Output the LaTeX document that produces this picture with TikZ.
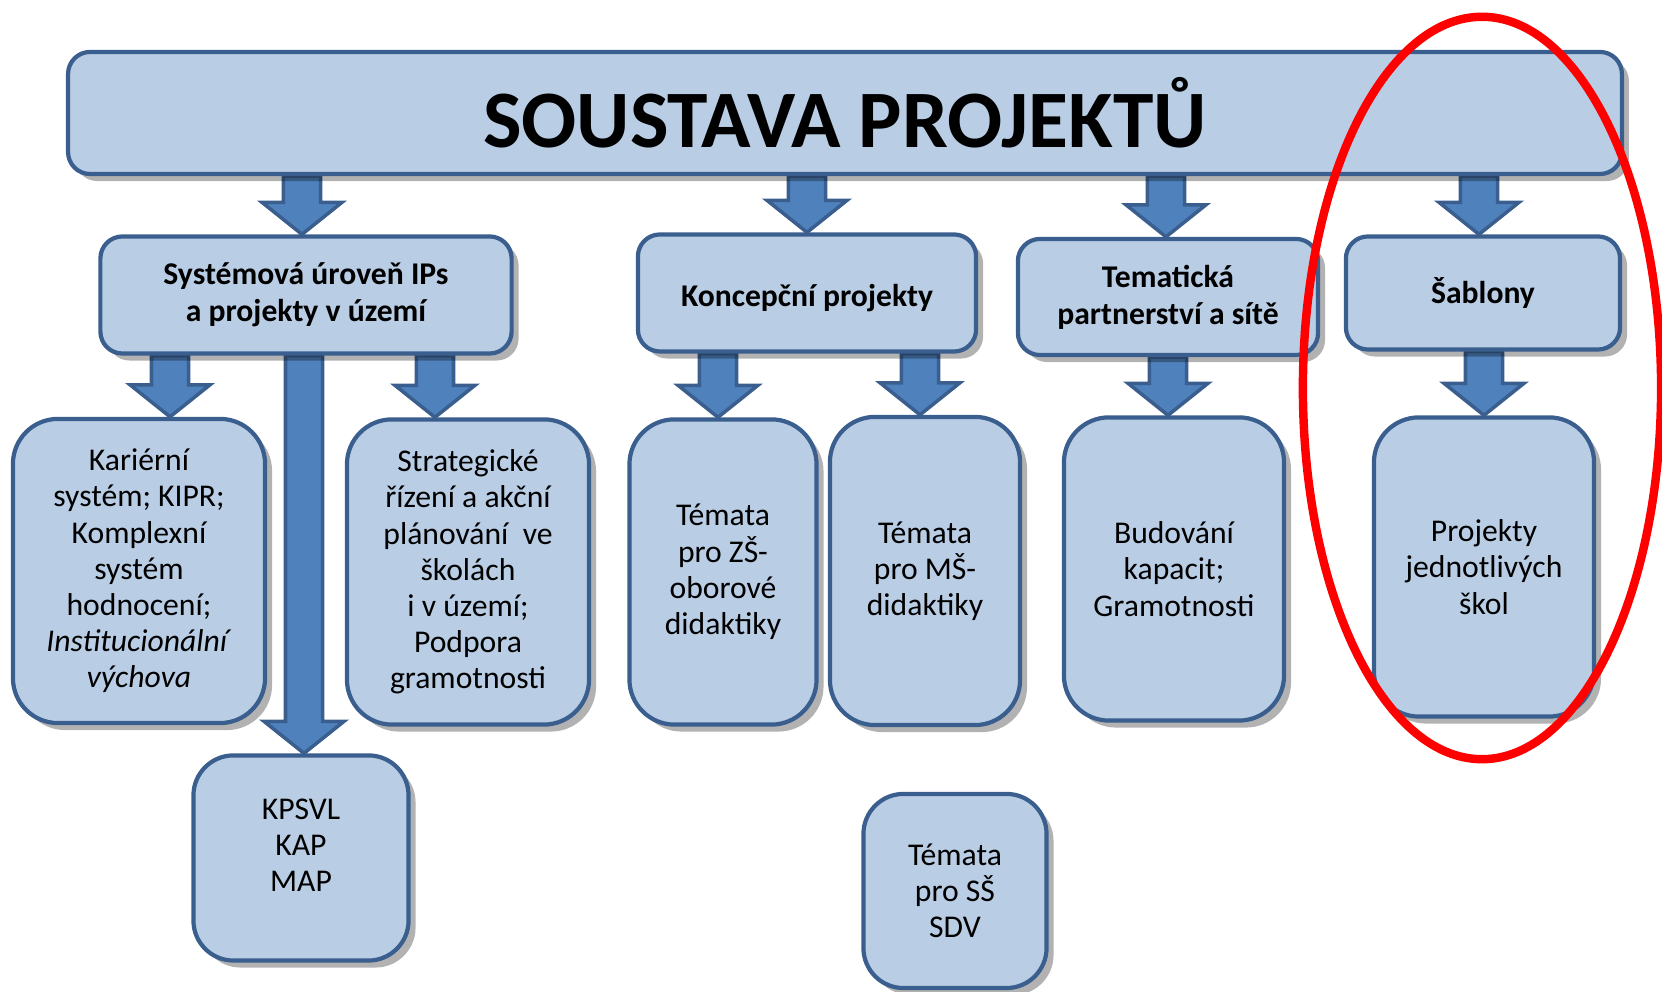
\documentclass[tikz,border=0pt]{standalone}
\usepackage{fontspec}
\setmainfont{Carlito}
\usetikzlibrary{shadows,backgrounds,calc}
\definecolor{boxfill}{HTML}{B9CDE5}
\definecolor{boxline}{HTML}{3A5F8E}
\definecolor{arrfill}{HTML}{4F81BD}
\newcommand\blockarrow[2]{%
	\filldraw[blockarr] let \p1=#1, \p2=#2 in
	(\x2-1.85mm,\y1)--(\x2+1.85mm,\y1)--(\x2+1.85mm,\y2+3.2mm)--(\x2+4mm,\y2+3.2mm)
	--(\x2,\y2)--(\x2-4mm,\y2+3.2mm)--(\x2-1.85mm,\y2+3.2mm)--cycle;}
\begin{document}
\begin{tikzpicture}[x=0.01cm, y=-0.01cm, line join=round,
	box/.style={draw=boxline, fill=boxfill, line width=1.2pt, rounded corners=4.5mm, align=center, inner sep=0pt, font=\fontsize{9}{10.3}\selectfont,
		drop shadow={shadow xshift=.7mm, shadow yshift=-.7mm, opacity=.3, fill=black}},
	head/.style={box, rounded corners=2.2mm, font=\fontsize{9}{10.5}\selectfont\bfseries},
	blockarr/.style={draw=boxline, fill=arrfill, line width=1pt}]
		\useasboundingbox (0,0) rectangle (1662,992);
		\node[head, minimum width=15.53cm, minimum height=1.22cm, font=\fontsize{23.2}{28}\selectfont\bfseries] (title) at (845,113) {SOUSTAVA PROJEKTŮ};
		\node[head, minimum width=4.11cm, minimum height=1.17cm] (sys) at (306,295) {Systémová úroveň IPs\\a projekty v území};
		\node[head, minimum width=3.38cm, minimum height=1.17cm, text height=9.3pt] (konc) at (807,293) {Koncepční projekty};
		\node[head, minimum width=3.00cm, minimum height=1.16cm] (tem) at (1168,297) {Tematická\\partnerství a sítě};
		\node[head, minimum width=2.74cm, minimum height=1.13cm] (sab) at (1483,293) {Šablony};
		\node[box, minimum width=2.52cm, minimum height=3.04cm] (kar) at (139,571) {Kariérní\\systém; KIPR;\\Komplexní\\systém\\hodnocení;\\\textit{Institucionální}\\\textit{výchova}};
		\node[box, minimum width=2.42cm, minimum height=3.05cm] (str) at (468,572) {Strategické\\řízení a akční\\plánování\ \ ve\\školách\\i v území;\\Podpora\\gramotnosti};
		\node[box, minimum width=2.15cm, minimum height=2.05cm, rounded corners=4mm] (kps) at (301,858) {KPSVL\\KAP\\MAP\\[-2.9pt]\mbox{}};
		\node[box, minimum width=1.87cm, minimum height=3.05cm] (zs) at (723,572) {Témata\\pro ZŠ-\\oborové\\didaktiky};
		\node[box, minimum width=1.90cm, minimum height=3.08cm] (ms) at (925,571) {Témata\\pro MŠ-\\didaktiky};
		\node[box, minimum width=2.20cm, minimum height=3.03cm] (bud) at (1174,569) {Budování\\kapacit;\\Gramotnosti};
		\node[box, minimum width=2.20cm, minimum height=2.99cm] (proj) at (1484,567) {Projekty\\jednotlivých\\škol};
		\node[box, minimum width=1.83cm, minimum height=1.94cm, rounded corners=4mm] (ss) at (955,891) {Témata\\pro SŠ\\SDV};
		\begin{scope}[on background layer]
		\blockarrow{(title.south)}{([xshift=-.4mm]sys.north)}
		\blockarrow{(title.south)}{(konc.north)}
		\blockarrow{(title.south)}{([xshift=-.2mm]tem.north)}
		\blockarrow{(title.south)}{([xshift=-.4mm]sab.north)}
		\blockarrow{(sys.south)}{([xshift=3.1mm]kar.north)}
		\blockarrow{(sys.south)}{([xshift=.3mm]kps.north)}
		\blockarrow{(sys.south)}{([xshift=-3.3mm]str.north)}
		\blockarrow{(konc.south)}{([xshift=-.5mm]zs.north)}
		\blockarrow{(konc.south)}{([xshift=-.5mm]ms.north)}
		\blockarrow{(tem.south)}{([xshift=-.6mm]bud.north)}
		\blockarrow{(sab.south)}{(proj.north)}
		\end{scope}
		\draw[red, line width=2.4pt] (1482,388) ellipse [x radius=1.79cm, y radius=3.71cm];
\end{tikzpicture}
\end{document}
